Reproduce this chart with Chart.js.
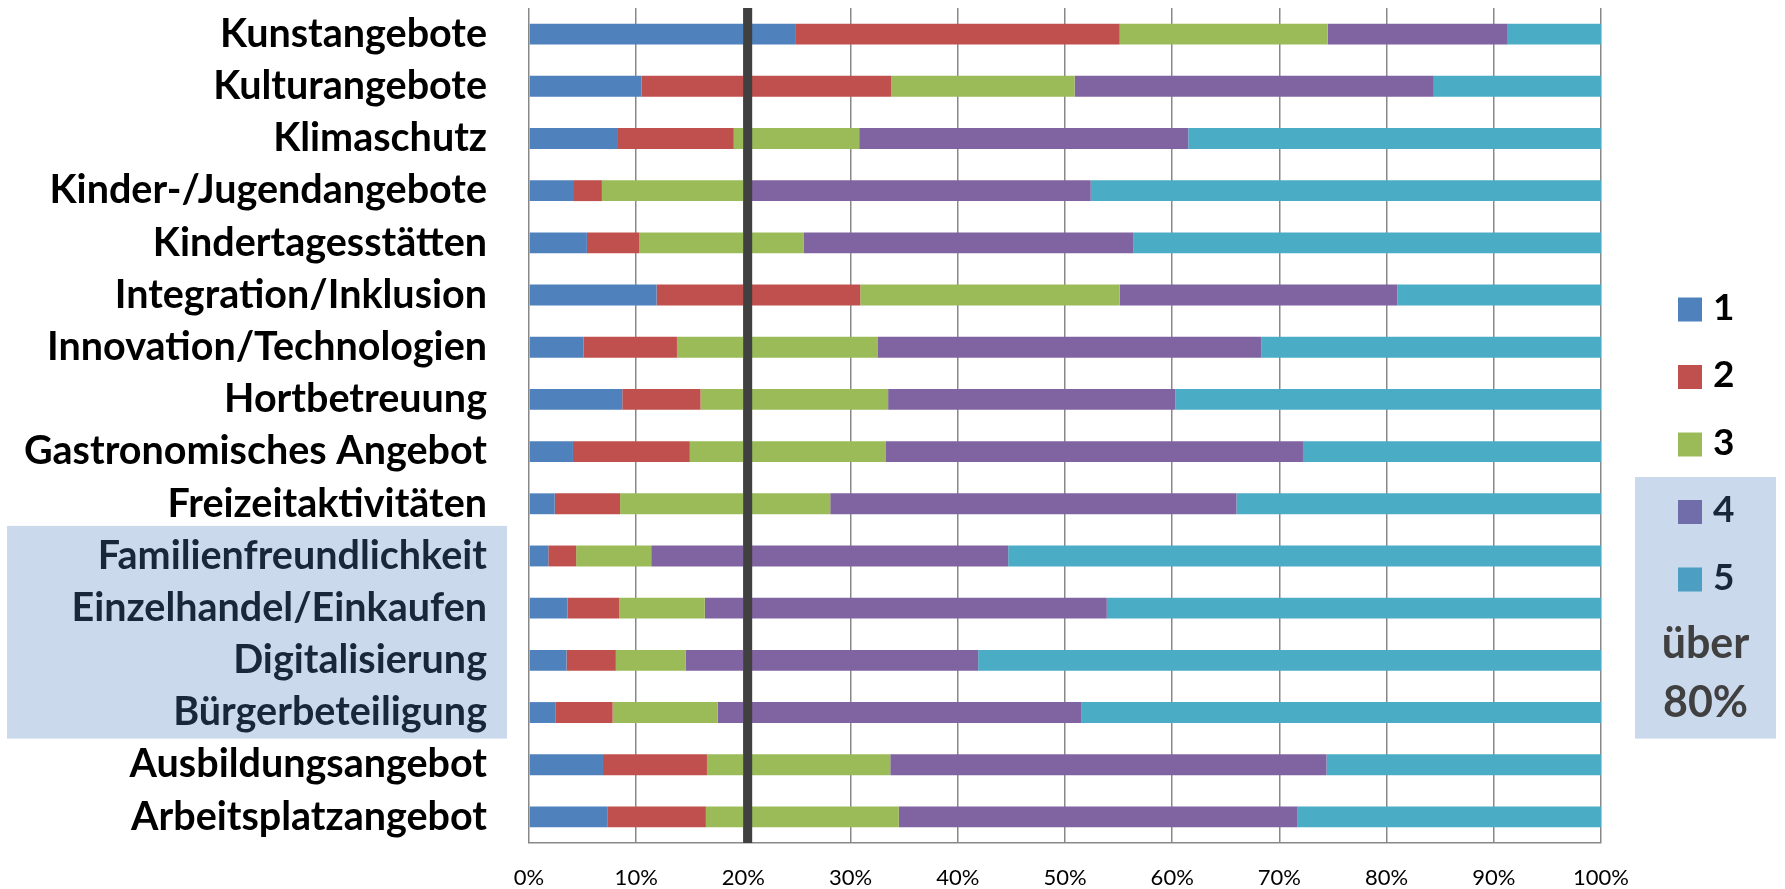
<!DOCTYPE html>
<html><head><meta charset="utf-8">
<script src="https://cdn.jsdelivr.net/npm/chart.js@4.4.1/dist/chart.umd.min.js"></script>
<style>html,body{margin:0;padding:0;background:#fff;}#wrap{width:1785px;height:889px;}</style>
</head><body><div id="wrap"><canvas id="c" width="1785" height="889"></canvas></div>
<script>
const categories = ['Kunstangebote','Kulturangebote','Klimaschutz','Kinder-/Jugendangebote','Kindertagesstätten','Integration/Inklusion','Innovation/Technologien','Hortbetreuung','Gastronomisches Angebot','Freizeitaktivitäten','Familienfreundlichkeit','Einzelhandel/Einkaufen','Digitalisierung','Bürgerbeteiligung','Ausbildungsangebot','Arbeitsplatzangebot'];
const seriesLabels = ['1','2','3','4','5'];
const s1 = [24.9,10.5,8.3,4.2,5.4,11.9,5.1,8.7,4.1,2.4,1.8,3.6,3.5,2.5,6.9,7.3];
const s2 = [30.2,23.3,10.8,2.6,4.9,19.0,8.7,7.3,10.9,6.1,2.6,4.8,4.6,5.3,9.7,9.2];
const s3 = [19.4,17.1,11.7,13.5,15.3,24.2,18.7,17.5,18.3,19.6,7.0,8.0,6.5,9.8,17.1,18.0];
const s4 = [16.8,33.5,30.7,32.1,30.8,25.9,35.8,26.8,38.9,37.9,33.3,37.5,27.3,33.9,40.7,37.2];
const s5 = [8.7,15.6,38.5,47.6,43.6,19.0,31.7,39.7,27.8,34.0,55.3,46.1,58.1,48.5,25.6,28.3];
const xTickStep = 10;
const xMax = 100;
const highlightCategories = ['Familienfreundlichkeit','Einzelhandel/Einkaufen','Digitalisierung','Bürgerbeteiligung'];
const highlightSeries = ['4','5'];
const noteLines = ['über','80%'];
const markerValue = 20.4;
const colors = ['#4F81BD','#C0504D','#9BBB59','#8064A2','#4BACC6'];
const seriesValues = [s1,s2,s3,s4,s5];

const overlayPlugin = {
  id: 'overlay',
  afterDatasetsDraw(chart) {
    const {ctx, chartArea, scales: {x}} = chart;
    const px = x.getPixelForValue(markerValue);
    ctx.save();
    ctx.strokeStyle = '#404040';
    ctx.lineWidth = 9;
    ctx.beginPath();
    ctx.moveTo(px, chartArea.top);
    ctx.lineTo(px, chartArea.bottom);
    ctx.stroke();
    ctx.restore();
  },
  afterDraw(chart) {
    const {ctx, chartArea, scales: {y}} = chart;
    const step = 67.5;
    const boxX = chartArea.right + 77;
    const y0 = chart.height / 2 - step * 2;
    ctx.save();
    ctx.font = 'bold 37px Lato';
    ctx.textBaseline = 'alphabetic';
    ctx.textAlign = 'left';
    chart.data.datasets.forEach((ds, i) => {
      const cy = y0 + i * step;
      ctx.fillStyle = ds.backgroundColor;
      ctx.fillRect(boxX, cy - 12, 24, 24);
      ctx.fillStyle = '#000';
      ctx.fillText(ds.label, boxX + 35, cy + 10);
    });
    const idx = highlightCategories.map(c => categories.indexOf(c));
    const band = y.getPixelForValue(1) - y.getPixelForValue(0);
    const top = y.getPixelForValue(Math.min(...idx)) - band / 2 - 4;
    const bottom = y.getPixelForValue(Math.max(...idx)) + band / 2;
    ctx.fillStyle = 'rgba(79,129,189,0.3)';
    ctx.fillRect(7, top, chartArea.left - 22 - 7, bottom - top);
    const firstHl = seriesLabels.indexOf(highlightSeries[0]);
    const lTop = y0 + firstHl * step - 35;
    const lLeft = chartArea.right + 34;
    ctx.fillRect(lLeft, lTop, 141, bottom - lTop);
    ctx.fillStyle = '#404040';
    ctx.font = 'bold 43px Lato';
    ctx.textAlign = 'center';
    const lastCy = y0 + (seriesLabels.length - 1) * step;
    ctx.fillText(noteLines[0], lLeft + 70.5, lastCy + 78);
    ctx.fillText(noteLines[1], lLeft + 70.5, lastCy + 137);
    ctx.restore();
  }
};

new Chart(document.getElementById('c'), {
  type: 'bar',
  data: {
    labels: categories,
    datasets: seriesLabels.map((lab, i) => ({
      label: lab,
      data: seriesValues[i],
      backgroundColor: colors[i],
      borderWidth: 0,
      barPercentage: 0.8,
      categoryPercentage: 0.5
    }))
  },
  options: {
    indexAxis: 'y',
    responsive: false,
    animation: false,
    devicePixelRatio: 1,
    layout: {padding: {top: 8, left: 0, right: 184, bottom: 0}},
    plugins: {legend: {display: false}, tooltip: {enabled: false}},
    scales: {
      x: {
        stacked: true, min: 0, max: xMax,
        ticks: {stepSize: xTickStep, callback: v => v + '%', color: '#000', padding: 22, font: {family: 'Lato', size: 22}},
        grid: {color: '#888888', lineWidth: 1.5, drawTicks: false},
        border: {color: '#888888', width: 1.5},
        afterFit: s => { s.height = 46; s.paddingLeft = 0; s.paddingRight = 0; }
      },
      y: {
        stacked: true,
        ticks: {color: '#000', padding: 42, font: {family: 'Lato', size: 39.5, weight: 'bold'}},
        grid: {display: false, drawTicks: false},
        border: {display: false},
        afterFit: s => { s.width = 529; s.paddingTop = 0; s.paddingBottom = 0; }
      }
    }
  },
  plugins: [overlayPlugin]
});
</script>
</body></html>
